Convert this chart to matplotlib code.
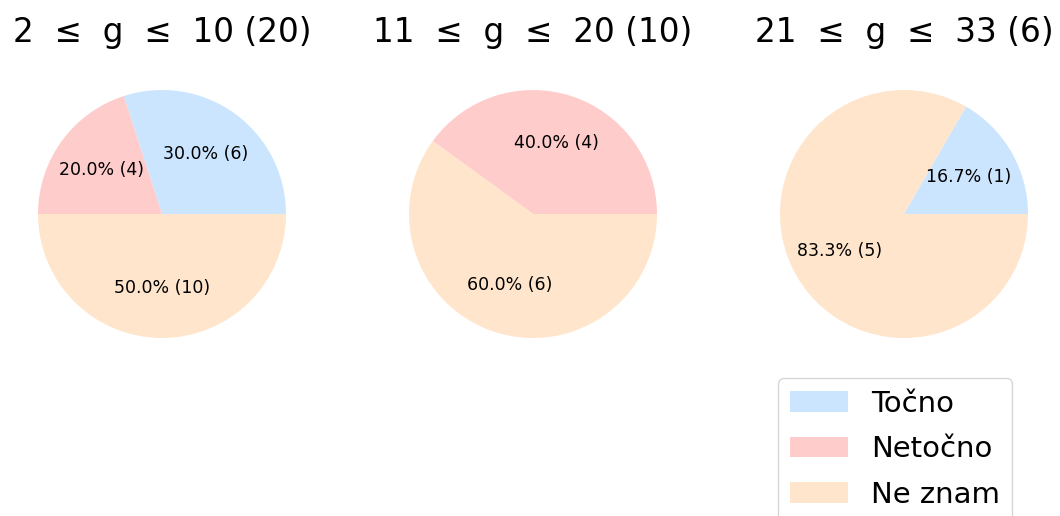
import matplotlib
matplotlib.use("Agg")
import matplotlib.pyplot as plt
from matplotlib.patches import Patch

# ---------- data ----------
group_lo = [2, 11, 21]
group_hi = [10, 20, 33]
group_n = [20, 10, 6]

categories = ["Točno", "Netočno", "Ne znam"]
tocno = [6, 0, 1]
netocno = [4, 4, 0]
ne_znam = [10, 6, 5]

colors = ["#cce5ff", "#ffcccc", "#ffe5cc"]

# ---------- layout (pixels) ----------
W, H = 1060, 516
centers_x = [162, 533, 904]
center_y = 214
half = 155  # 1.25 * pie radius

fig = plt.figure(figsize=(W / 100, H / 100), dpi=100)


def make_autopct(vals):
    total = sum(vals)

    def fmt(pct):
        if pct <= 0:
            return ""
        count = int(round(pct * total / 100.0))
        return f"{pct:.1f}% ({count})"
    return fmt


for i, cx in enumerate(centers_x):
    ax = fig.add_axes([(cx - half) / W, (H - center_y - half) / H,
                       2 * half / W, 2 * half / H])
    vals = [tocno[i], netocno[i], ne_znam[i]]
    ax.pie(vals, colors=colors, autopct=make_autopct(vals),
           textprops={"fontsize": 12.5})
    ax.set_xlim(-1.25, 1.25)
    ax.set_ylim(-1.25, 1.25)
    ax.set_title(f"{group_lo[i]}  ≤  g  ≤  {group_hi[i]} ({group_n[i]})",
                 fontsize=23.6, pad=12)

handles = [Patch(facecolor=c, label=l) for c, l in zip(colors, categories)]
fig.legend(handles=handles, loc="upper left", fontsize=21, labelspacing=0.6,
           bbox_to_anchor=(778 / W, 1 - 378 / H), bbox_transform=fig.transFigure,
           borderaxespad=0)

fig.savefig("out.png", dpi=100)
